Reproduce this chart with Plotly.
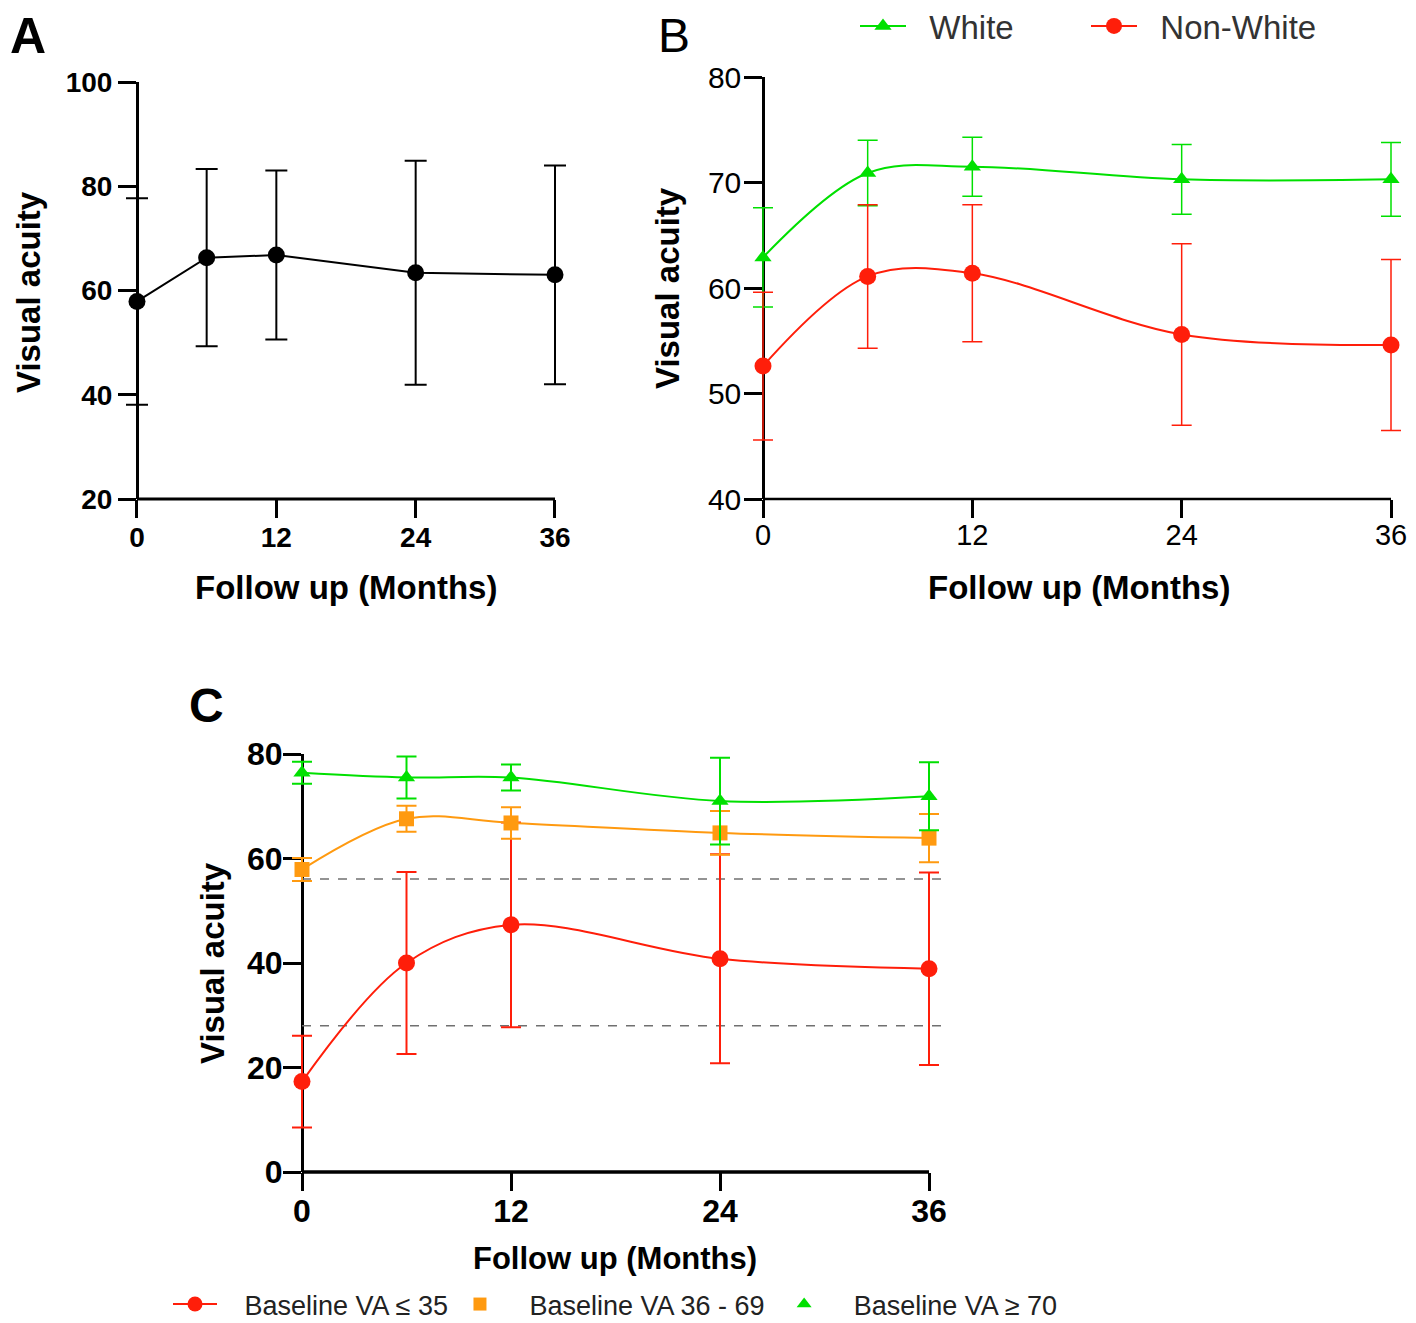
import plotly.graph_objects as go

# ---------------- data ----------------
months = [0, 6, 12, 24, 36]
tick_months = [0, 12, 24, 36]

# Panel A (all eyes)
a_mean = [57.9, 66.3, 66.8, 63.4, 63.0]
a_sd = [19.8, 17.0, 16.2, 21.5, 21.0]

# Panel B (ethnicity)
white_mean = [62.9, 70.9, 71.5, 70.3, 70.3]
white_sd = [4.7, 3.1, 2.8, 3.3, 3.5]
nonwhite_mean = [52.6, 61.1, 61.4, 55.6, 54.6]
nonwhite_sd = [7.0, 6.8, 6.5, 8.6, 8.1]

# Panel C (baseline VA groups)
low_mean = [17.3, 40.0, 47.3, 40.8, 38.9]
low_sd = [8.8, 17.4, 19.6, 20.0, 18.4]
mid_mean = [57.9, 67.6, 66.8, 64.9, 63.9]
mid_sd = [2.2, 2.5, 3.0, 4.2, 4.6]
high_mean = [76.4, 75.5, 75.5, 71.0, 71.9]
high_sd = [2.1, 4.0, 2.5, 8.3, 6.5]
threshold_values = [56.1, 28.0]
threshold_x = [0, 37]

a_yticks = [20, 40, 60, 80, 100]
b_yticks = [40, 50, 60, 70, 80]
c_yticks = [0, 20, 40, 60, 80]

# ---------------- style ----------------
GREEN = "#00e000"
RED = "#ff1e0a"
ORANGE = "#ff9a10"
FONT = "Liberation Sans, Arial, sans-serif"

OFF = 8                 # page body margin
FW, FH = 1416 - OFF, 1323 - OFF
X_MIN, X_MAX = 0, 36
PAD = 1.1  # months of padding so that error-bar caps are not clipped


def pxx(p):
    return (p - OFF) / FW


def pxy(p):
    return 1 - (p - OFF) / FH


def xdomain(p0, p36):
    ppm = (p36 - p0) / (X_MAX - X_MIN)
    return [max(0, pxx(p0 - PAD * ppm)), min(1, pxx(p36 + PAD * ppm))]


def ydomain(top, bottom):
    return [pxy(bottom), pxy(top)]


fig = go.Figure()

# Panel A
fig.add_trace(go.Scatter(
    x=months, y=a_mean, mode="lines+markers", xaxis="x", yaxis="y",
    line=dict(color="black", width=2),
    marker=dict(color="black", size=17, symbol="circle"),
    error_y=dict(type="data", array=a_sd, visible=True, color="black", thickness=2, width=11),
    showlegend=False, cliponaxis=False))

# Panel B
fig.add_trace(go.Scatter(
    x=months, y=white_mean, mode="lines+markers", xaxis="x2", yaxis="y2",
    name="\u00a0\u00a0White",
    line=dict(color=GREEN, width=2, shape="spline", smoothing=1),
    marker=dict(color=GREEN, size=15, symbol="triangle-up"),
    error_y=dict(type="data", array=white_sd, visible=True, color=GREEN, thickness=1.5, width=10),
    legend="legend", cliponaxis=False))
fig.add_trace(go.Scatter(
    x=months, y=nonwhite_mean, mode="lines+markers", xaxis="x2", yaxis="y2",
    name="\u00a0\u00a0Non-White",
    line=dict(color=RED, width=2, shape="spline", smoothing=1),
    marker=dict(color=RED, size=17, symbol="circle"),
    error_y=dict(type="data", array=nonwhite_sd, visible=True, color=RED, thickness=1.5, width=10),
    legend="legend", cliponaxis=False))

# Panel C reference lines
for v in threshold_values:
    fig.add_trace(go.Scatter(
        x=threshold_x, y=[v, v], mode="lines", xaxis="x3", yaxis="y3",
        line=dict(color="#707070", width=1.5, dash="dash"),
        showlegend=False, hoverinfo="skip"))

# Panel C series
c_series = [
    ("Baseline VA ≤ 35", low_mean, low_sd, RED, "circle", 17, "lines+markers"),
    ("Baseline VA 36 - 69", mid_mean, mid_sd, ORANGE, "square", 15, "markers"),
    ("Baseline VA ≥ 70", high_mean, high_sd, GREEN, "triangle-up", 15, "markers"),
]
for name, mean, sd, col, sym, size, legmode in c_series:
    fig.add_trace(go.Scatter(
        x=months, y=mean, mode="lines+markers", xaxis="x3", yaxis="y3",
        line=dict(color=col, width=2, shape="spline", smoothing=1),
        marker=dict(color=col, size=size, symbol=sym),
        error_y=dict(type="data", array=sd, visible=True, color=col, thickness=2, width=10),
        showlegend=False, cliponaxis=False))
for i, (name, mean, sd, col, sym, size, legmode) in enumerate(c_series):
    fig.add_trace(go.Scatter(
        x=[None], y=[None], mode=legmode, xaxis="x3", yaxis="y3",
        name="\u00a0\u00a0\u00a0" + name + ("\u00a0" if i == 1 else ""),
        line=dict(color=col, width=2),
        marker=dict(color=col, size=size - 2, symbol=sym),
        legend="legend2", showlegend=True))


def xaxis(p0, p36, size, weight, anchor, lw, standoff):
    return dict(domain=xdomain(p0, p36), range=[X_MIN - PAD, X_MAX + PAD], tickvals=tick_months,
                ticks="outside", ticklen=18, tickwidth=lw, tickcolor="black", showline=False,
                showgrid=False, zeroline=False, anchor=anchor, layer="below traces",
                ticklabelstandoff=standoff,
                tickfont=dict(family=FONT, size=size, color="black", weight=weight))


def yaxis(top, bottom, rng, tickvals, p0, size, weight, lw, standoff):
    return dict(domain=ydomain(top, bottom), range=rng, tickvals=tickvals, ticks="outside",
                ticklen=18, tickwidth=lw, tickcolor="black", showline=True, linewidth=lw,
                linecolor="black", showgrid=False, zeroline=False, anchor="free",
                position=pxx(p0), layer="below traces", ticklabelstandoff=standoff,
                tickfont=dict(family=FONT, size=size, color="black", weight=weight))


shapes = []
for xr, yr, lw in [("x", "y", 3), ("x2", "y2", 2.5), ("x3", "y3", 3.5)]:
    shapes.append(dict(type="line", xref=xr, yref=yr + " domain", x0=X_MIN, x1=X_MAX,
                       y0=0, y1=0, line=dict(color="black", width=lw), layer="below"))

layout = dict(
    width=FW, height=FH, margin=dict(l=0, r=0, t=0, b=0, autoexpand=False),
    paper_bgcolor="white", plot_bgcolor="rgba(0,0,0,0)",
    font=dict(family=FONT, color="black"),
    xaxis=xaxis(137, 555, 28, "bold", "y", 3, -5),
    yaxis=yaxis(82, 499, [20, 100], a_yticks, 137, 28, "bold", 3, 0),
    xaxis2=xaxis(763, 1391, 29, "normal", "y2", 2.5, -8),
    yaxis2=yaxis(77, 499, [40, 80], b_yticks, 763, 30, "normal", 2.5, -3),
    xaxis3=xaxis(302, 929, 32, "bold", "y3", 3, -7),
    yaxis3=yaxis(754, 1172, [0, 80], c_yticks, 302, 32, "bold", 3, -6),
    shapes=shapes,
    legend=dict(orientation="h", x=pxx(855), y=pxy(-2), xanchor="left", yanchor="top",
                font=dict(family=FONT, size=33, color="#333333"), itemwidth=46,
                entrywidth=170, bgcolor="rgba(0,0,0,0)"),
    legend2=dict(orientation="h", x=pxx(168), y=pxy(1280), xanchor="left", yanchor="top",
                 font=dict(family=FONT, size=27, color="#222222"), itemwidth=44,
                 bgcolor="rgba(0,0,0,0)"),
)

annotations = []
for (x, y, text, ang, size) in [
    (28, 292, "Visual acuity", -90, 33), (346, 587, "Follow up (Months)", 0, 33),
    (667, 288, "Visual acuity", -90, 33), (1079, 587, "Follow up (Months)", 0, 33),
    (212, 963, "Visual acuity", -90, 33), (615, 1258, "Follow up (Months)", 0, 31),
]:
    annotations.append(dict(x=pxx(x), y=pxy(y), xref="paper", yref="paper", text=text,
                            textangle=ang, showarrow=False,
                            font=dict(family=FONT, size=size, color="black", weight="bold"),
                            xanchor="center", yanchor="middle"))
for (x, y, text, size, weight) in [(28, 36, "A", 50, "bold"), (674, 36, "B", 48, "normal"),
                                   (206, 705, "C", 48, "bold")]:
    annotations.append(dict(x=pxx(x), y=pxy(y), xref="paper", yref="paper", text=text,
                            showarrow=False, font=dict(family=FONT, size=size, color="black", weight=weight),
                            xanchor="center", yanchor="middle"))
layout["annotations"] = annotations

fig.update_layout(**layout)
fig.write_html("out.html")
